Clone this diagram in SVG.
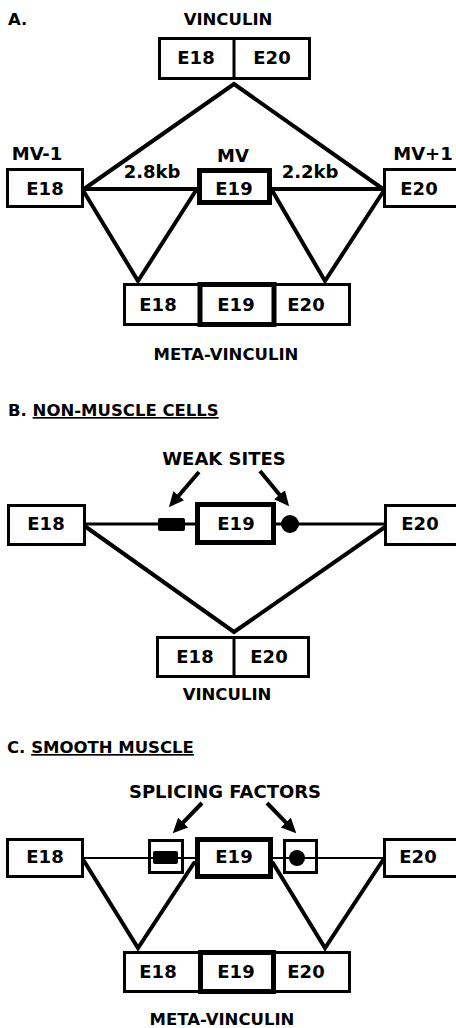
<svg xmlns="http://www.w3.org/2000/svg" width="456" height="1028" viewBox="0 0 456 1028">
<style>
text{font-family:"DejaVu Sans","Liberation Sans",sans-serif;font-weight:bold;fill:#000;}
.lbl{font-size:18px;text-anchor:middle;}
.ttl{font-size:16.5px;text-anchor:middle;}
.hd{font-size:16.5px;}
.box{fill:#fff;stroke:#000;stroke-width:3;}
.thick{fill:#fff;stroke:#000;stroke-width:5;}
.sbox{fill:none;stroke:#000;stroke-width:3;}
.ln{stroke:#000;stroke-width:4;fill:none;stroke-linecap:round;}
.thin{stroke:#000;stroke-width:3;fill:none;}
.thin2{stroke:#000;stroke-width:2.2;fill:none;}
.arr{stroke:#000;stroke-width:4;fill:none;}
</style>
<defs>
<marker id="ah" markerUnits="userSpaceOnUse" markerWidth="15" markerHeight="14" viewBox="0 0 15 14" refX="1" refY="7" orient="auto">
<path d="M0,0 L15,7 L0,14 z" fill="#000"/>
</marker>
</defs>

<!-- connectors -->
<g id="connectors">
<!-- A -->
<polyline class="ln" points="84,189 234,84 383,189"/>
<line class="ln" x1="83" y1="189" x2="197" y2="189"/>
<line class="ln" x1="272" y1="189" x2="384" y2="189"/>
<polyline class="ln" points="84,192 138,281 195,192"/>
<polyline class="ln" points="273,192 325,281 383,192"/>
<!-- B -->
<line class="thin" x1="85" y1="524" x2="196" y2="524"/>
<line class="thin" x1="275" y1="524" x2="386" y2="524"/>
<polyline class="ln" points="86,527 234,632 385,527"/>
<line class="arr" x1="199" y1="472" x2="178" y2="496.5" marker-end="url(#ah)"/>
<line class="arr" x1="260" y1="471" x2="280.2" y2="495.5" marker-end="url(#ah)"/>
<!-- C -->
<line class="thin2" x1="83" y1="858" x2="197" y2="858"/>
<line class="thin2" x1="271" y1="858" x2="384" y2="858"/>
<polyline class="ln" points="84,861 138,948 194,863"/>
<polyline class="ln" points="273,863 325,948 383,860"/>
<line class="arr" x1="202" y1="803" x2="182.5" y2="823.2" marker-end="url(#ah)"/>
<line class="arr" x1="267" y1="803" x2="286.5" y2="823.2" marker-end="url(#ah)"/>
</g>

<!-- Section A -->
<g id="titleA">
<text class="hd" x="8" y="25">A.</text>
<text class="ttl" x="228" y="25">VINCULIN</text>
</g>
<g id="A-vinculin">
<rect class="box" x="159.5" y="38.5" width="150" height="40"/>
<line class="thin" x1="234" y1="38" x2="234" y2="79"/>
<text class="lbl" x="196" y="64">E18</text>
<text class="lbl" x="272" y="64">E20</text>
</g>
<g id="A-E18">
<text class="lbl" x="37" y="160">MV-1</text>
<rect class="box" x="7.5" y="169.5" width="75" height="37"/>
<text class="lbl" x="45" y="195">E18</text>
</g>
<g id="A-E19">
<text class="lbl" x="233" y="162">MV</text>
<rect class="thick" x="199.5" y="170.5" width="70" height="32"/>
<text class="lbl" x="234" y="195">E19</text>
</g>
<g id="A-E20">
<text class="lbl" x="423" y="160">MV+1</text>
<rect class="box" x="384.5" y="169.5" width="80" height="37"/>
<text class="lbl" x="419" y="195">E20</text>
</g>
<g id="A-labels">
<text class="lbl" x="152" y="178">2.8kb</text>
<text class="lbl" x="310" y="178">2.2kb</text>
</g>
<g id="A-metavinculin">
<rect class="box" x="124.5" y="284.5" width="225" height="40"/>
<rect class="thick" x="200" y="284.5" width="74" height="40"/>
<text class="lbl" x="158" y="311">E18</text>
<text class="lbl" x="236" y="311">E19</text>
<text class="lbl" x="306" y="311">E20</text>
<text class="ttl" x="226" y="360">META-VINCULIN</text>
</g>

<!-- Section B -->
<g id="titleB">
<text class="hd" x="8" y="416">B. <tspan text-decoration="underline">NON-MUSCLE CELLS</tspan></text>
<text class="lbl" x="224" y="465">WEAK SITES</text>
</g>
<g id="B-E18">
<rect class="box" x="8.5" y="505.5" width="76" height="39"/>
<text class="lbl" x="46" y="530">E18</text>
</g>
<g id="B-E19">
<rect class="thick" x="197.5" y="504.5" width="76" height="38"/>
<text class="lbl" x="236" y="530">E19</text>
</g>
<g id="B-E20">
<rect class="box" x="385.5" y="505.5" width="80" height="39"/>
<text class="lbl" x="420" y="530">E20</text>
</g>
<g id="B-sites">
<rect x="158" y="518" width="27" height="13" rx="2" fill="#000"/>
<circle cx="290" cy="524" r="9" fill="#000"/>
</g>
<g id="B-vinculin">
<rect class="box" x="157.5" y="637.5" width="151" height="39"/>
<line class="thin" x1="234" y1="637" x2="234" y2="677"/>
<text class="lbl" x="195" y="663">E18</text>
<text class="lbl" x="269" y="663">E20</text>
<text class="ttl" x="227" y="700">VINCULIN</text>
</g>

<!-- Section C -->
<g id="titleC">
<text class="hd" x="7" y="753">C. <tspan text-decoration="underline">SMOOTH MUSCLE</tspan></text>
<text class="lbl" x="225" y="798">SPLICING FACTORS</text>
</g>
<g id="C-E18">
<rect class="box" x="7.5" y="839.5" width="75" height="37"/>
<text class="lbl" x="45" y="863">E18</text>
</g>
<g id="C-factor1">
<rect class="sbox" x="149.5" y="840.5" width="33" height="32"/>
<rect x="153" y="851" width="25" height="13" rx="2" fill="#000"/>
</g>
<g id="C-E19">
<rect class="thick" x="197.5" y="839.5" width="73" height="37"/>
<text class="lbl" x="234" y="863">E19</text>
</g>
<g id="C-factor2">
<rect class="sbox" x="284.5" y="840.5" width="32" height="32"/>
<circle cx="297" cy="858" r="8" fill="#000"/>
</g>
<g id="C-E20">
<rect class="box" x="384.5" y="839.5" width="80" height="37"/>
<text class="lbl" x="418" y="863">E20</text>
</g>
<g id="C-metavinculin">
<rect class="box" x="124.5" y="952.5" width="225" height="39"/>
<rect class="thick" x="200.5" y="952.5" width="73" height="39"/>
<text class="lbl" x="158" y="978">E18</text>
<text class="lbl" x="236" y="978">E19</text>
<text class="lbl" x="306" y="978">E20</text>
<text class="ttl" x="222" y="1025">META-VINCULIN</text>
</g>
</svg>
